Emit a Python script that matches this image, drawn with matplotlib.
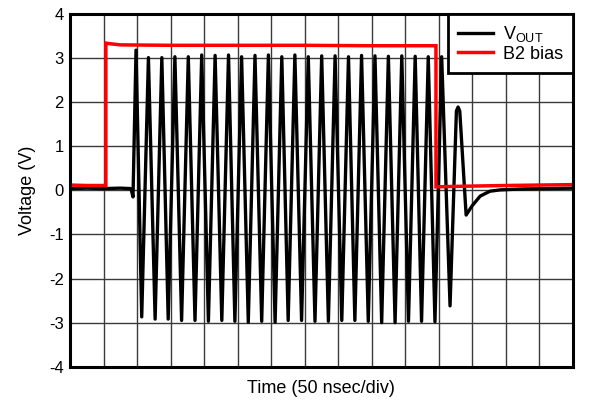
import matplotlib
matplotlib.use("Agg")
import matplotlib.pyplot as plt

plt.rcParams['font.family'] = ['Liberation Sans', 'DejaVu Sans']
plt.rcParams['mathtext.fontset'] = 'custom'
plt.rcParams['mathtext.rm'] = 'Liberation Sans'
plt.rcParams['mathtext.it'] = 'Liberation Sans'
plt.rcParams['axes.unicode_minus'] = False

# ---- data (time in divisions of 50 nsec, voltage in V) ----
bias_t = [0.0, 0.5, 1.07, 1.07, 1.15, 1.5, 3.0, 5.0, 7.0, 9.0, 10.9, 10.92, 10.92, 11.5, 13.0, 15.0]
bias_v = [0.12, 0.11, 0.11, 3.34, 3.33, 3.30, 3.29, 3.29, 3.29, 3.28, 3.28, 3.28, 0.08, 0.09, 0.11, 0.13]

vout_t = [0.0, 0.5, 1.0, 1.5, 1.82, 1.88, 1.97,
          2.14, 2.34, 2.54, 2.74, 2.93, 3.13, 3.33, 3.53, 3.73, 3.93,
          4.13, 4.33, 4.53, 4.73, 4.92, 5.12, 5.32, 5.52, 5.72, 5.92,
          6.12, 6.32, 6.51, 6.71, 6.91, 7.11, 7.31, 7.51, 7.71, 7.91,
          8.11, 8.31, 8.50, 8.70, 8.90, 9.10, 9.30, 9.50, 9.70, 9.90,
          10.10, 10.30, 10.49, 10.69, 10.89, 11.09,
          11.34, 11.53, 11.58, 11.63, 11.82, 12.0, 12.24, 12.53, 12.83, 13.43, 14.2, 15.0]
vout_v = [0.04, 0.05, 0.04, 0.05, 0.04, -0.15, 3.18,
          -2.87, 3.01, -2.92, 3.01, -2.92, 3.03, -2.95, 3.03, -2.95, 3.07,
          -2.97, 3.06, -2.95, 3.07, -2.97, 3.03, -2.99, 3.06, -2.97, 3.07,
          -2.99, 3.03, -2.95, 3.07, -2.95, 3.03, -2.97, 3.05, -2.97, 3.05,
          -2.95, 3.03, -2.95, 3.06, -2.97, 3.05, -3.00, 3.04, -3.00, 3.05,
          -2.97, 3.04, -2.97, 3.03, -2.98, 3.03,
          -2.62, 1.80, 1.89, 1.80, -0.56, -0.35, -0.13, -0.02, 0.01, 0.03, 0.04, 0.05]

yticks = [-4, -3, -2, -1, 0, 1, 2, 3, 4]
n_div = 15

fig = plt.figure(figsize=(5.95, 4.03), dpi=100)
ax = fig.add_axes([70/595, 1 - 366.7/403, (572.7 - 70)/595, (366.7 - 14)/403])

ax.plot(vout_t, vout_v, color='black', lw=2.4, solid_joinstyle='round', label=r'V$_{\mathrm{OUT}}$', zorder=3)
ax.plot(bias_t, bias_v, color='#ff0000', lw=2.5, solid_joinstyle='miter', label='B2 bias', zorder=4)

ax.set_xlim(0, n_div)
ax.set_ylim(-4, 4)
ax.set_xticks(range(0, n_div + 1))
ax.set_xticklabels([])
ax.set_yticks(yticks)
ax.set_yticklabels([str(v) for v in yticks], fontsize=12)
ax.tick_params(length=0, pad=4.5)
ax.grid(True, color='#3a3a3a', lw=1.0)
ax.set_axisbelow(True)
for s in ax.spines.values():
    s.set_linewidth(2.2)
    s.set_zorder(5)

ax.set_xlabel('Time (50 nsec/div)', fontsize=13, labelpad=5)
ax.set_ylabel('Voltage (V)', fontsize=13, labelpad=9)

leg = ax.legend(loc='upper right', borderaxespad=0, fancybox=False, framealpha=1,
                edgecolor='black', fontsize=13, handlelength=1.95, handletextpad=0.55,
                labelspacing=0.1, borderpad=0.55)
leg.get_frame().set_linewidth(2.0)
leg.set_zorder(6)

fig.savefig('out.png', dpi=100)
